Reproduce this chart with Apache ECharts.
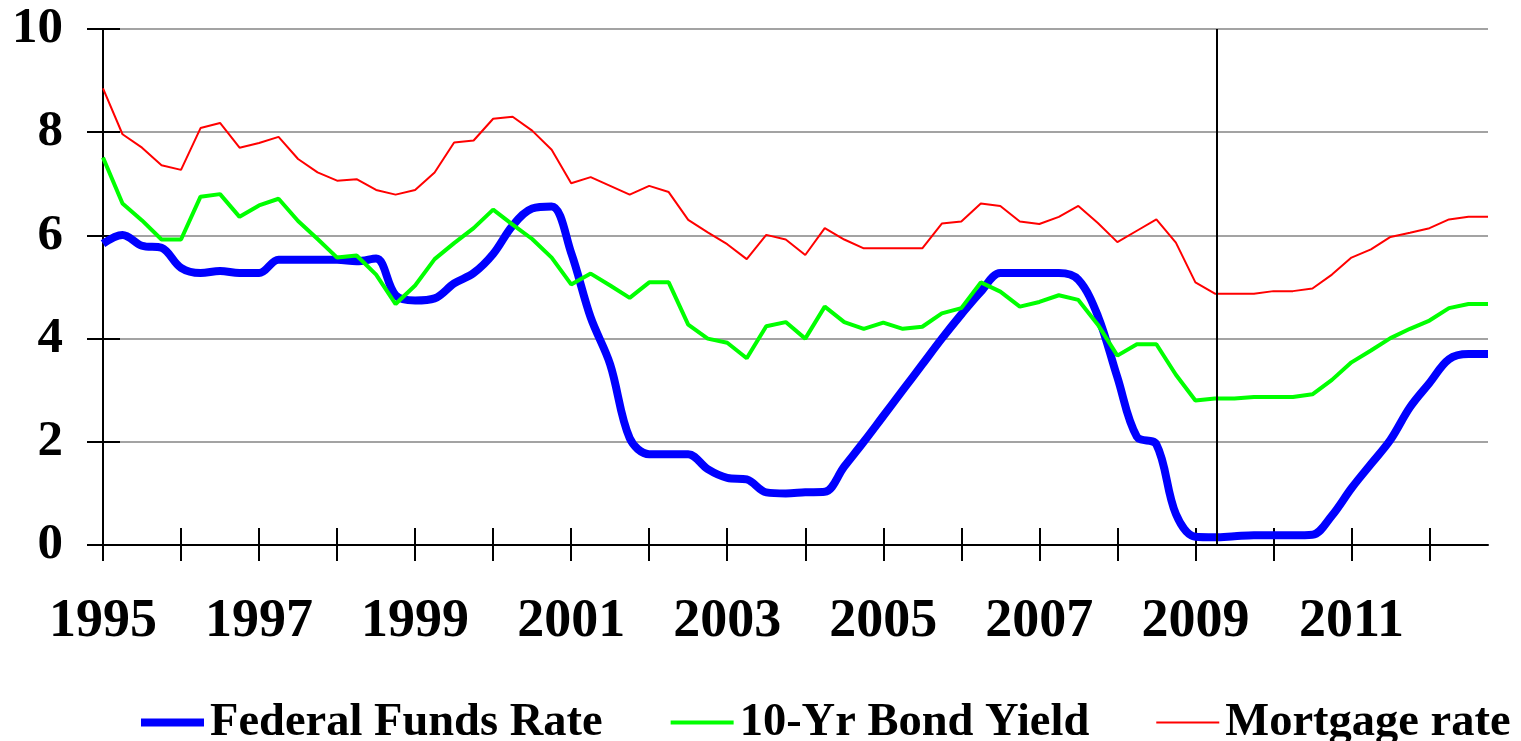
<!DOCTYPE html>
<html>
<head>
<meta charset="utf-8">
<script src="https://cdn.jsdelivr.net/npm/echarts@6/dist/echarts.min.js"></script>
<style>
html,body{margin:0;padding:0;background:#fff;}
#chart{width:1521px;height:741px;}
</style>
</head>
<body>
<div id="chart"></div>
<script>
// ---- data (quarterly, 1995 Q1 .. 2012 Q4) ----
const startYear = 1995;
const seriesNames = ['Federal Funds Rate', '10-Yr Bond Yield', 'Mortgage rate'];
const fedFunds = [
  5.84, 6.01, 5.80, 5.76,  5.37, 5.27, 5.31, 5.27,  5.27, 5.53, 5.53, 5.53,
  5.53, 5.50, 5.55, 4.84,  4.74, 4.78, 5.07, 5.27,  5.64, 6.19, 6.52, 6.56,
  5.66, 4.41, 3.50, 2.07,  1.76, 1.76, 1.76, 1.47,  1.30, 1.27, 1.02, 1.00,
  1.02, 1.03, 1.52, 2.00,  2.50, 3.00, 3.50, 4.00,  4.47, 4.91, 5.27, 5.27,
  5.27, 5.27, 5.14, 4.44,  3.25, 2.10, 1.95, 0.60,  0.16, 0.15, 0.17, 0.19,
  0.19, 0.19, 0.20, 0.57,  1.10, 1.57, 2.04, 2.67,  3.14, 3.60, 3.70, 3.70
];
const bondYield = [
  7.51, 6.62, 6.29, 5.92,  5.92, 6.75, 6.80, 6.36,  6.58, 6.71, 6.28, 5.93,
  5.57, 5.61, 5.24, 4.67,  5.03, 5.54, 5.85, 6.14,  6.50, 6.21, 5.93, 5.57,
  5.05, 5.26, 5.03, 4.79,  5.09, 5.09, 4.27, 4.00,  3.92, 3.62, 4.24, 4.32,
  4.00, 4.62, 4.32, 4.19,  4.31, 4.19, 4.23, 4.49,  4.59, 5.09, 4.91, 4.62,
  4.71, 4.84, 4.75, 4.27,  3.67, 3.89, 3.89, 3.30,  2.80, 2.84, 2.84, 2.87,
  2.87, 2.87, 2.92, 3.20,  3.54, 3.77, 4.01, 4.19,  4.35, 4.59, 4.67, 4.67
];
const mortgage = [
  8.85, 7.96, 7.70, 7.36,  7.27, 8.08, 8.18, 7.70,  7.79, 7.91, 7.48, 7.22,
  7.06, 7.09, 6.88, 6.79,  6.88, 7.22, 7.80, 7.84,  8.26, 8.30, 8.03, 7.66,
  7.01, 7.13, 6.96, 6.79,  6.96, 6.84, 6.30, 6.06,  5.83, 5.54, 6.01, 5.92,
  5.62, 6.14, 5.92, 5.75,  5.75, 5.75, 5.75, 6.23,  6.27, 6.62, 6.57, 6.27,
  6.22, 6.36, 6.57, 6.24,  5.87, 6.09, 6.31, 5.86,  5.09, 4.87, 4.87, 4.87,
  4.92, 4.92, 4.97, 5.24,  5.57, 5.73, 5.97, 6.05,  6.14, 6.31, 6.36, 6.36
];
const yearTicks = [1995,1996,1997,1998,1999,2000,2001,2002,2003,2004,2005,2006,2007,2008,2009,2010,2011,2012];
const yearLabels = [1995,1997,1999,2001,2003,2005,2007,2009,2011];
const xMin = 1995, xMax = 2012.75;
const yMin = 0, yMax = 10, yStep = 2;
const markerYear = 2009.28;

function toPoints(values) {
  return values.map((v, i) => [startYear + i / 4, v]);
}

const FONT = 'Liberation Serif';
const colors = ['#0000ff', '#00ff00', '#ff0000'];
const widths = [8, 4, 2];
const chart = echarts.init(document.getElementById('chart'), null, {renderer: 'canvas'});

const tickStyle = {color: '#000', width: 2};

const option = {
  animation: false,
  backgroundColor: '#ffffff',
  grid: {left: 103, right: 33, top: 29, bottom: 196, containLabel: false},
  legend: {
    data: seriesNames.map((n, i) => ({
      name: n,
      itemStyle: {opacity: 0},
      lineStyle: {width: widths[i], color: colors[i], opacity: 1}
    })),
    left: 137,
    top: 699,
    padding: 0,
    itemWidth: 63,
    itemHeight: 14,
    itemGap: 66,
    textStyle: {
      fontFamily: FONT, fontWeight: 'bold', fontSize: 46.5, color: '#000',
      padding: [0, 0, 0, 1]
    }
  },
  xAxis: [
    {
      type: 'value', min: xMin, max: xMax,
      axisLine: {show: true, onZero: false, lineStyle: tickStyle},
      axisTick: {show: true, customValues: yearTicks, inside: false, length: 16, lineStyle: tickStyle},
      axisLabel: {
        show: true, customValues: yearLabels, formatter: v => String(v),
        margin: 50, fontFamily: FONT, fontWeight: 'bold', fontSize: 54, color: '#000'
      },
      splitLine: {show: false}
    },
    {
      type: 'value', min: xMin, max: xMax, position: 'bottom',
      axisLine: {show: false, onZero: false},
      axisTick: {show: true, customValues: yearTicks, inside: true, length: 17, lineStyle: tickStyle},
      axisLabel: {show: false},
      splitLine: {show: false}
    }
  ],
  yAxis: [
    {
      type: 'value', min: yMin, max: yMax, interval: yStep, position: 'left',
      axisLine: {show: true, onZero: false, lineStyle: tickStyle},
      axisTick: {show: true, inside: false, length: 16, lineStyle: tickStyle},
      axisLabel: {margin: 40, fontFamily: FONT, fontWeight: 'bold', fontSize: 51, color: '#000'},
      splitLine: {show: true, lineStyle: {color: '#a3a3a3', width: 2}}
    },
    {
      type: 'value', min: yMin, max: yMax, interval: yStep, position: 'left',
      axisLine: {show: false, onZero: false},
      axisTick: {show: true, inside: true, length: 17, lineStyle: tickStyle},
      axisLabel: {show: false},
      splitLine: {show: false}
    }
  ],
  series: [
    {
      name: seriesNames[0], type: 'line', data: toPoints(fedFunds),
      xAxisIndex: 0, yAxisIndex: 0,
      symbol: 'none', showSymbol: false, smooth: 0.35,
      lineStyle: {color: colors[0], width: widths[0]},
      itemStyle: {color: colors[0]},
      markLine: {
        silent: true, symbol: 'none', animation: false,
        label: {show: false},
        lineStyle: {color: '#000', width: 2, type: 'solid'},
        data: [{xAxis: markerYear}]
      }
    },
    {
      name: seriesNames[1], type: 'line', data: toPoints(bondYield),
      xAxisIndex: 0, yAxisIndex: 0,
      symbol: 'none', showSymbol: false,
      lineStyle: {color: colors[1], width: widths[1]},
      itemStyle: {color: colors[1]}
    },
    {
      name: seriesNames[2], type: 'line', data: toPoints(mortgage),
      xAxisIndex: 0, yAxisIndex: 0,
      symbol: 'none', showSymbol: false,
      lineStyle: {color: colors[2], width: widths[2]},
      itemStyle: {color: colors[2]}
    }
  ]
};
chart.setOption(option);
</script>
</body>
</html>
